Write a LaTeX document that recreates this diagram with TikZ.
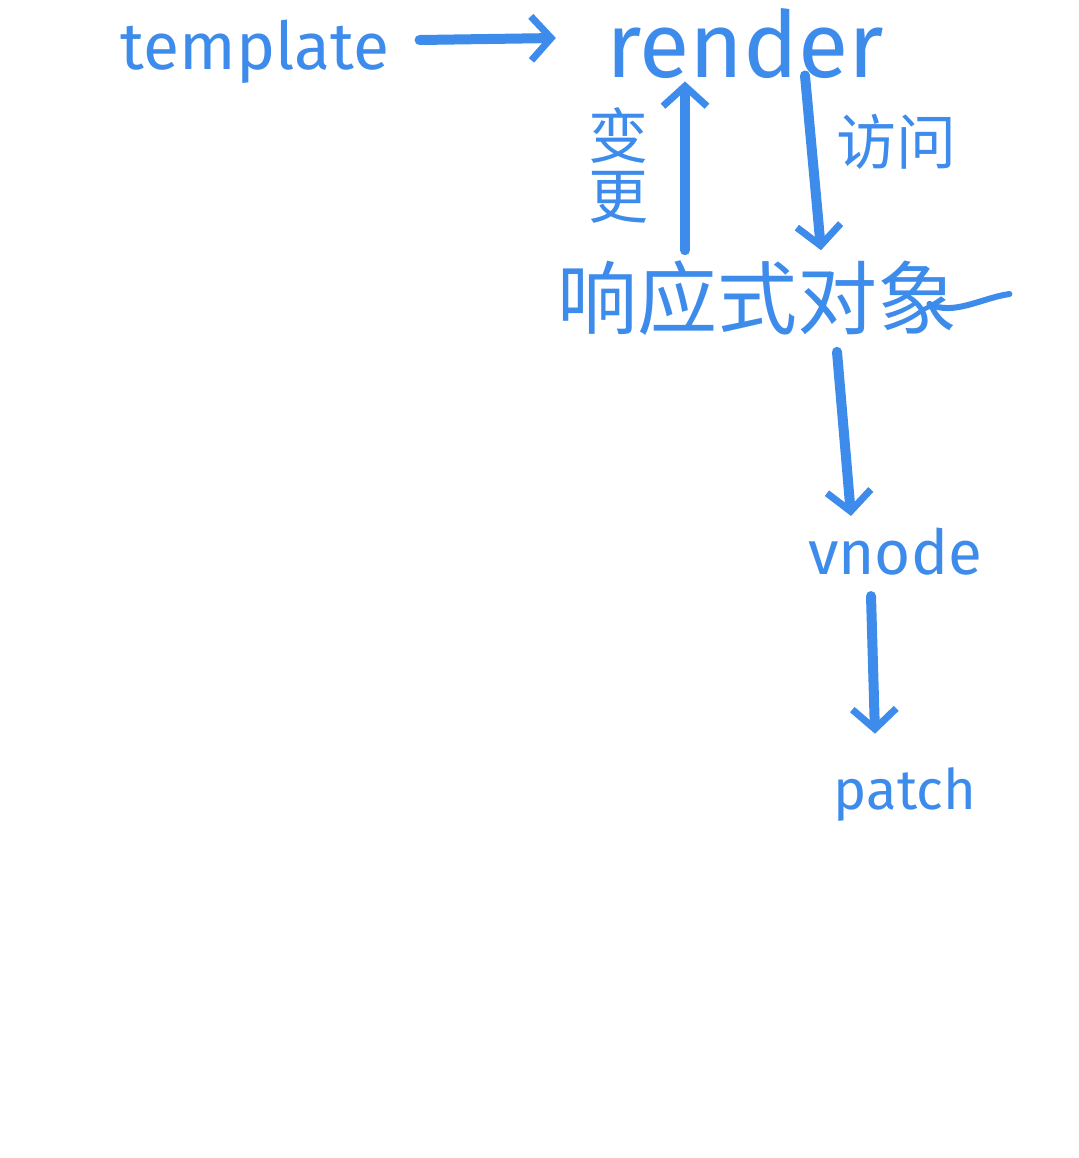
\documentclass[tikz,border=0pt]{standalone}
\usepackage{fontspec}
\setmainfont{Fira Sans}
\newfontfamily\cjk{Noto Sans CJK SC}
\usepackage{xcolor}
\definecolor{ink}{RGB}{61,139,234}
\usetikzlibrary{arrows.meta}

\tikzset{
	word/.style={text=ink, inner sep=0pt},
	stroke/.style={draw=ink, line width=5pt, line cap=round, line join=round},
}

\begin{document}
\begin{tikzpicture}[x=0.5pt, y=-0.5pt, >={Straight Barb[length=10pt, width=22pt, line width=3.5pt]}]
	\useasboundingbox (0,0) rectangle (1079,1158);

	\node[word, font=\fontsize{33}{36}\selectfont] (template) at (255,52)  {template};
	\node[word, font=\fontsize{46}{50}\selectfont] (render)   at (745,44)  {render};
	\node[word, font=\cjk\fontsize{40}{44}\selectfont] (reactive) at (757,298) {响应式对象};
	\node[word, font=\fontsize{31}{34}\selectfont] (vnode)    at (895,552) {vnode};
	\node[word, font=\fontsize{28}{31}\selectfont] (patch)    at (905,795) {patch};

	\draw[stroke,->] ([xshift=15pt,yshift=6pt]template.east) -- ([xshift=-25pt,yshift=3pt]render.west);
	\draw[stroke,->] ([xshift=-36pt,yshift=5pt]reactive.north) -- ([xshift=-30pt,yshift=-1pt]render.south)
		node[pos=0.5, left=16pt, word, align=center, font=\cjk\fontsize{30}{30}\selectfont] (change) {变\\更};
	\draw[stroke,->] ([xshift=30pt,yshift=2pt]render.south) -- ([xshift=32pt,yshift=5pt]reactive.north)
		node[pos=0.38, right=10pt, word, font=\cjk\fontsize{30}{32}\selectfont] (visit) {访问};
	\draw[stroke,->] ([xshift=40pt,yshift=-8pt]reactive.south) -- ([xshift=-22pt,yshift=6pt]vnode.north);
	\draw[stroke,->] ([xshift=-12pt,yshift=-10pt]vnode.south) -- ([xshift=-15pt,yshift=17pt]patch.north);

	% tail
	\draw[stroke, line width=3pt] ([xshift=-14pt,yshift=-3pt]reactive.east) .. controls +(12pt,-6pt) and +(-14pt,-2pt) .. ++(40pt,5pt);
\end{tikzpicture}
\end{document}
